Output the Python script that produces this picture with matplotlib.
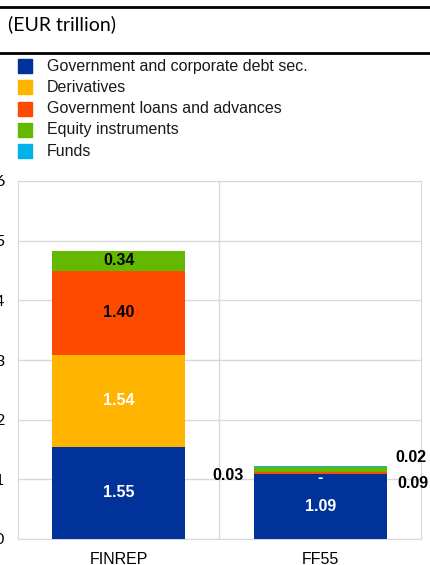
import numpy as np
import matplotlib as mpl
mpl.use('Agg')
import matplotlib.pyplot as plt
from matplotlib.lines import Line2D
from matplotlib.patches import Rectangle

# Data (EUR trillion)
categories = ["FINREP", "FF55"]
series = ["Government and corporate debt sec.", "Derivatives",
          "Government loans and advances", "Equity instruments", "Funds"]
values = {
    "Government and corporate debt sec.": [1.55, 1.09],
    "Derivatives": [1.54, 0.0],
    "Government loans and advances": [1.40, 0.03],
    "Equity instruments": [0.34, 0.09],
    "Funds": [0.0, 0.02],
}
colors = ["#003299", "#FFB400", "#FF4B00", "#65B800", "#00B1EA"]
yticks = [0, 1, 2, 3, 4, 5, 6]

W, H = 431, 565
FS = 11.5
plt.rcParams['font.family'] = ['Liberation Sans', 'DejaVu Sans']
fig = plt.figure(figsize=(W/100, H/100), dpi=100)

# header: title between two black rules
fig.add_artist(Line2D([0, 1], [1-7/H, 1-7/H], color='black', lw=2))
fig.add_artist(Line2D([0, 1], [1-53/H, 1-53/H], color='black', lw=2))
fig.text(8/W, 1-24/H, "(EUR trillion)", fontsize=14, family='Lato',
         va='center', ha='left')

# legend drawn by hand
for i, (name, c) in enumerate(zip(series, colors)):
    yc = 66 + i*21.3
    fig.add_artist(Rectangle((18/W, 1-(yc+7)/H), 14/W, 14/H, color=c,
                             transform=fig.transFigure))
    fig.text(47/W, 1-yc/H, name, fontsize=FS, va='center', ha='left',
             color='#1a1a1a')

ax = fig.add_axes([18/W, 26/H, 403/W, 358/H])
x = np.arange(len(categories))
bottom = np.zeros(len(categories))
width = 0.66
for name, c in zip(series, colors):
    v = np.array(values[name])
    ax.bar(x, v, width, bottom=bottom, color=c, zorder=3)
    bottom = bottom + v

# value labels inside FINREP bar
b = 0.0
for name, txtc in zip(series[:4], ['white', 'white', 'black', 'black']):
    v = values[name][0]
    ax.text(x[0], b + v/2, "%.2f" % v, ha='center', va='center',
            fontsize=FS, fontweight='bold', color=txtc, zorder=4)
    b += v

# FF55 labels
v = [values[s][1] for s in series]
cum = np.cumsum([0] + v)
ax.text(x[1], cum[0] + v[0]/2, "%.2f" % v[0], ha='center', va='center',
        fontsize=FS, fontweight='bold', color='white', zorder=4)
ax.annotate("-", (x[1], cum[1]), xytext=(0, -4), textcoords='offset pixels',
            ha='center', va='center', fontsize=FS, fontweight='bold',
            color='white', zorder=4)
left_edge = x[1] - width/2
right_edge = x[1] + width/2
ax.annotate("%.2f" % v[2], (left_edge, cum[2] + v[2]/2), xytext=(-10, -2),
            textcoords='offset pixels', ha='right', va='center',
            fontsize=FS, fontweight='bold', zorder=4)
ax.annotate("%.2f" % v[3], (right_edge, cum[3] + v[3]/2), xytext=(11, -14),
            textcoords='offset pixels', ha='left', va='center',
            fontsize=FS, fontweight='bold', zorder=4)
ax.annotate("%.2f" % v[4], (right_edge, cum[4] + v[4]/2), xytext=(9, 9),
            textcoords='offset pixels', ha='left', va='center',
            fontsize=FS, fontweight='bold', zorder=4)

ax.set_xlim(-0.5, 1.5)
ax.set_ylim(0, 6)
ax.set_yticks(yticks)
ax.set_xticks(x)
ax.set_xticklabels(categories, fontsize=FS)
ax.set_xticks([0.5], minor=True)
ax.tick_params(axis='both', length=0)
ax.tick_params(axis='x', which='minor', length=0)
ax.tick_params(axis='y', pad=10, labelsize=FS)
ax.tick_params(axis='x', pad=9)
ax.grid(axis='y', color='#d9d9d9', lw=1, zorder=0)
ax.grid(axis='x', which='minor', color='#d9d9d9', lw=1, zorder=0)
for s in ax.spines.values():
    s.set_color('#d9d9d9')
for lbl in ax.get_yticklabels():
    lbl.set_family('Lato')

fig.savefig("out.png", dpi=100)
